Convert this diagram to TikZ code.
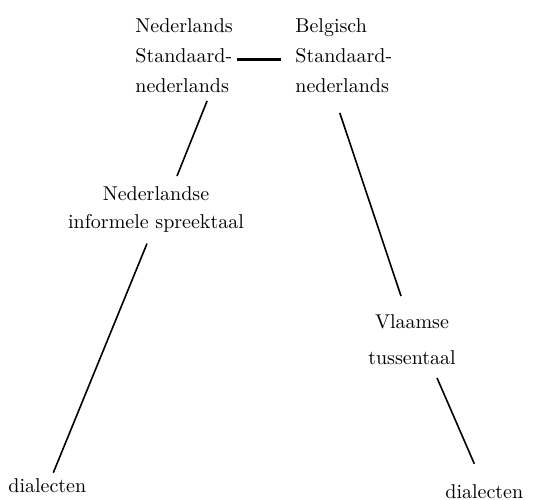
\documentclass[tikz,border=0pt]{standalone}
\usetikzlibrary{calc}
\begin{document}
\begin{tikzpicture}[x=0.5pt,y=-0.5pt,
  taal/.style={inner sep=0pt,font=\fontsize{10}{15}\selectfont},
  tak/.style={line width=0.8pt,black}]
\useasboundingbox (0,0) rectangle (544,499);
\node[taal,align=left,anchor=north west] (nl) at (135,18){Nederlands\\Standaard-\\nederlands};
\node[taal,align=left,anchor=north west] (be) at (295,18){Belgisch\\Standaard-\\nederlands};
\node[taal,align=center,anchor=north] (nis) at (156,186){Nederlandse\\[-1pt]informele spreektaal};
\node[taal,align=center,anchor=north] (vt) at (412,314){Vlaamse\\[3pt]tussentaal};
\node[taal,anchor=base west] (dl) at (8,492){dialecten};
\node[taal,anchor=base west] (dr) at (445,498){dialecten};
\draw[line width=1.8pt] ($(nl.east)+(4,4)$)--($(be.west)+(-14,4)$);
\draw[tak] ($(nl.south)+(23,8)$)--($(nis.north)+(21,-10)$);
\draw[tak] ($(nis.south)+(-9,11)$)--($(dl.north)+(6,-5)$);
\draw[tak] ($(be.south)+(-4,20)$)--($(vt.north)+(-11,-18)$);
\draw[tak] ($(vt.south)+(25,13)$)--($(dr.north)+(-10,-20)$);
\end{tikzpicture}
\end{document}
